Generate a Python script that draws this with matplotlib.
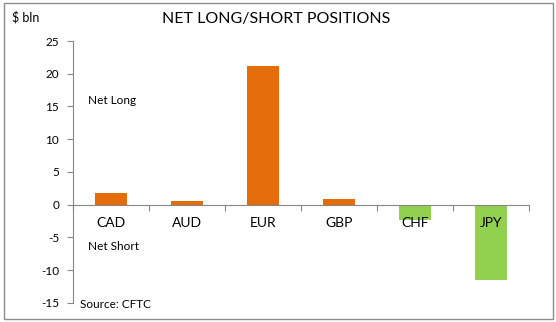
import matplotlib
matplotlib.use("Agg")
import matplotlib.pyplot as plt
from matplotlib.patches import Rectangle
import numpy as np

categories = ["CAD", "AUD", "EUR", "GBP", "CHF", "JPY"]
values = [1.7, 0.6, 21.2, 0.9, -2.3, -11.5]
colors = ["#E46C0A", "#E46C0A", "#E46C0A", "#E46C0A", "#92D050", "#92D050"]
yticks = [-15, -10, -5, 0, 5, 10, 15, 20, 25]

plt.rcParams['font.family'] = ['Lato', 'DejaVu Sans']

fig = plt.figure(figsize=(5.56, 3.22), dpi=100)
fig.patch.set_facecolor("white")
# chart border
fig.add_artist(Rectangle((4/556, 1 - 319/322), 549/556, 316/322, transform=fig.transFigure,
                         fill=False, edgecolor="#8c8c8c", linewidth=1.0))

ax = fig.add_axes([73/556, 1 - 302.8/322, (529 - 73)/556, (302.8 - 41)/322])
x = np.arange(len(categories))
ax.bar(x, values, width=0.41, color=colors, zorder=1)
ax.set_xlim(-0.5, len(categories) - 0.5)
ax.set_ylim(-15, 25)
ax.set_yticks(yticks)
ax.set_yticklabels([str(v) for v in yticks], fontsize=8.5)
ax.tick_params(axis='y', direction='out', length=4, color="#868686", pad=6)

ax.set_xticks(np.arange(len(categories) + 1) - 0.5)
ax.set_xticklabels([])
ax.set_xticks(x, minor=True)
ax.set_xticklabels(categories, minor=True, fontsize=8.5)
ax.tick_params(axis='x', which='major', direction='out', length=4, color="#868686")
ax.tick_params(axis='x', which='minor', length=0, pad=9)
ax.xaxis.set_zorder(5)
ax.set_axisbelow(False)

for s in ["top", "right"]:
    ax.spines[s].set_visible(False)
ax.spines["bottom"].set_position(("data", 0))
ax.spines["bottom"].set_color("#868686")
ax.spines["bottom"].set_zorder(5)
ax.spines["left"].set_color("#868686")
ax.set_facecolor("none")

fig.text(12/556, 1 - 17/322, "$ bln", fontsize=9, va="center", ha="left")
fig.text(276/556, 1 - 19/322, "NET LONG/SHORT POSITIONS", fontsize=11.5, va="center", ha="center")
fig.text(88/556, 1 - 101/322, "Net Long", fontsize=8.5, va="center", ha="left")
fig.text(88/556, 1 - 246/322, "Net Short", fontsize=8.5, va="center", ha="left")
fig.text(80/556, 1 - 304/322, "Source: CFTC", fontsize=8.5, va="center", ha="left")

fig.savefig("out.png", dpi=100)
